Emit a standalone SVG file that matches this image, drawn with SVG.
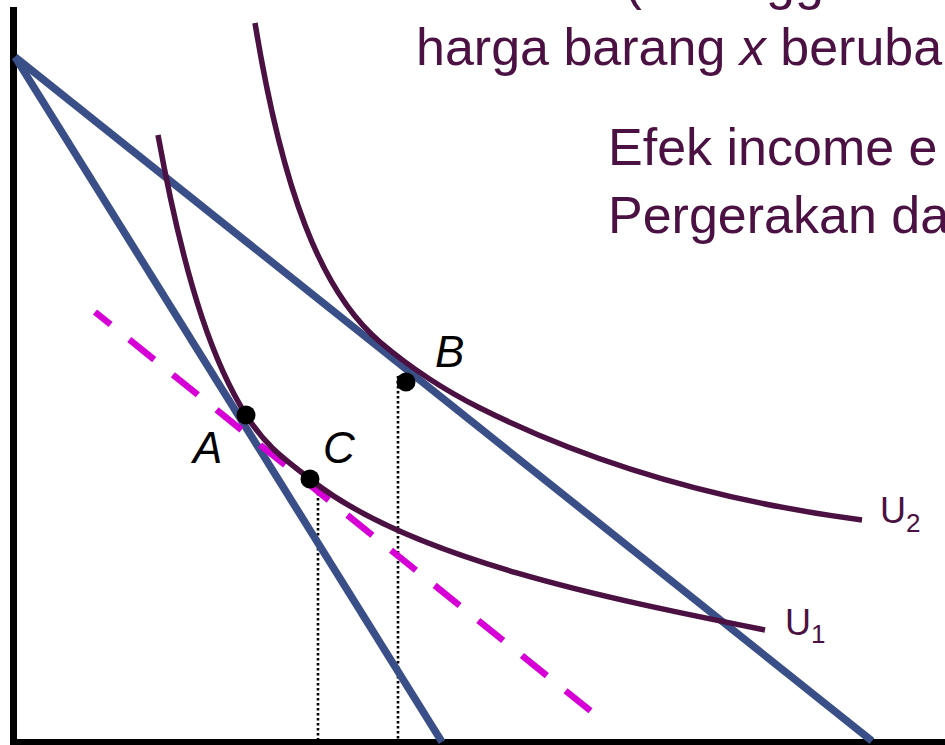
<svg xmlns="http://www.w3.org/2000/svg" width="945" height="745" viewBox="0 0 945 745">
<style>
.txt{font-family:"Liberation Sans",Arial,sans-serif;fill:#4a1142;font-size:52px}
.lbl{font-family:"Liberation Sans",Arial,sans-serif;fill:#000;font-size:44px;font-style:italic}
.ulbl{font-family:"Liberation Sans",Arial,sans-serif;fill:#4a1142;font-size:36px}
.budget{fill:none;stroke:#3a4f88;stroke-width:7.5;stroke-linecap:butt}
.icurve{fill:none;stroke:#4a1142;stroke-width:5.5}
.dash{fill:none;stroke:#d600d6;stroke-width:6.5;stroke-dasharray:32 24;stroke-dashoffset:12}
.drop{fill:none;stroke:#000;stroke-width:2.6;stroke-dasharray:2.6 2.4}
.dot{fill:#000}
</style>
<rect width="945" height="745" fill="#fff"/>
<g id="title">
<text class="txt" x="425" y="-1.5">sebesar (sehingga utilitas</text>
<text class="txt" x="416" y="65">harga barang <tspan font-style="italic">x</tspan> beruba</text>
<text class="txt" x="608" y="165">Efek income e</text>
<text class="txt" x="608" y="233">Pergerakan da</text>
</g>
<g id="axes">
<line x1="13.5" y1="7" x2="13.5" y2="745" stroke="#000" stroke-width="7"/>
<line x1="10" y1="742.5" x2="945" y2="742.5" stroke="#000" stroke-width="7"/>
</g>
<g id="guides">
<line class="drop" x1="318" y1="488" x2="318" y2="739"/>
<line class="drop" x1="398" y1="376" x2="398" y2="739"/>
</g>
<g id="connectors">
<line id="budget-steep" class="budget" x1="15" y1="57" x2="442" y2="742"/>
<line id="budget-shallow" class="budget" x1="15" y1="57" x2="872" y2="741"/>
<line id="compensated" class="dash" x1="95" y1="312" x2="592" y2="712"/>
</g>
<g id="U1">
<path class="icurve" d="M158,135 C187,294.5 217,368.6 246,415 C267,448.6 289,462.1 310,479 C410,559.5 615,600 765,630"/>
<text class="ulbl" x="785" y="635">U<tspan font-size="26" dy="8">1</tspan></text>
</g>
<g id="U2">
<path class="icurve" d="M255,23 C282,188 320,291 380,342 C413,370 447,391.5 480,408 C600,468 732,503 862,520"/>
<text class="ulbl" x="880" y="523">U<tspan font-size="26" dy="9">2</tspan></text>
</g>
<g id="pointA">
<circle class="dot" cx="246" cy="415" r="9.5"/>
<text class="lbl" x="193" y="463">A</text>
</g>
<g id="pointC">
<circle class="dot" cx="310" cy="479" r="9.5"/>
<text class="lbl" x="323" y="463">C</text>
</g>
<g id="pointB">
<circle class="dot" cx="406" cy="382" r="9.5"/>
<text class="lbl" x="435" y="367">B</text>
</g>
</svg>
